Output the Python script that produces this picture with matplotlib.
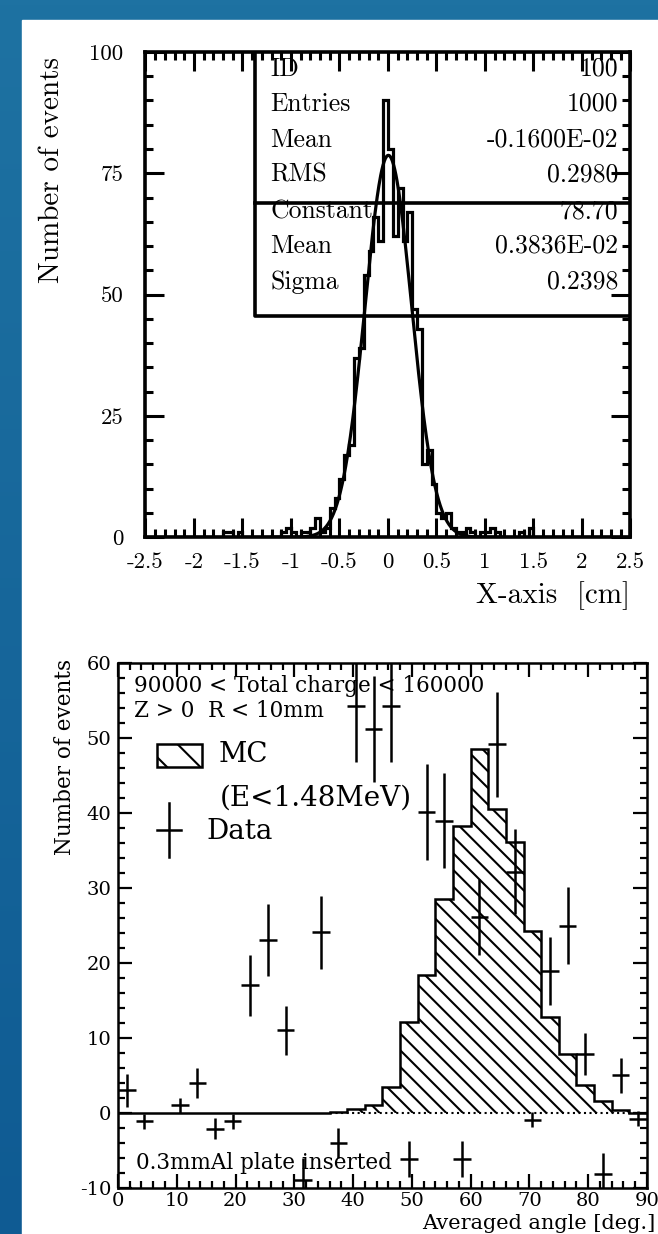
import numpy as np
import matplotlib.pyplot as plt
from matplotlib.patches import Rectangle
from matplotlib.ticker import MultipleLocator

plt.rcParams['axes.unicode_minus'] = False
plt.rcParams['hatch.linewidth'] = 1.5

# DATOS PANEL SUPERIOR (histograma 100 bins en -2.5 .. 2.5)
x_edges = np.linspace(-2.5, 2.5, 101)
counts = [0, 0, 0, 0, 0, 0, 0, 0, 0, 0,
          0, 0, 0, 0, 0, 0, 1, 1, 0, 1,
          0, 0, 0, 0, 0, 0, 0, 0, 1, 2,
          1, 0, 1, 1, 2, 4, 1, 2, 6, 8,
          12, 17, 19, 37, 39, 54, 59, 66, 61, 90,
          80, 62, 72, 61, 67, 47, 43, 15, 18, 11,
          5, 4, 5, 2, 1, 1, 2, 1, 0, 1,
          1, 2, 1, 0, 0, 0, 0, 1, 0, 2,
          0, 0, 0, 0, 0, 0, 0, 0, 0, 0,
          0, 0, 0, 0, 0, 0, 0, 0, 0, 0]
fit_const = 78.70
fit_mean = 0.3836e-02
fit_sigma = 0.2398
stat_names = ['ID', 'Entries', 'Mean', 'RMS', 'Constant', 'Mean', 'Sigma']
stat_values = ['100', '1000', '-0.1600E-02', '0.2980', '78.70', '0.3836E-02', '0.2398']
xtick_top = [-2.5, -2, -1.5, -1, -0.5, 0, 0.5, 1, 1.5, 2, 2.5]
xtick_top_lbl = ['-2.5', '-2', '-1.5', '-1', '-0.5', '0', '0.5', '1', '1.5', '2', '2.5']
ytick_top = [0, 25, 50, 75, 100]

# DATOS PANEL INFERIOR
mc_edges = np.arange(0, 91, 3)
mc = [0, 0, 0, 0, 0, 0, 0, 0, 0, 0,
      0, 0, 0.1, 0.5, 1.1, 3.4, 12.1, 18.4, 28.6, 38.3,
      48.5, 40.5, 36.2, 24.3, 12.8, 7.9, 3.7, 1.6, 0.4, 0]
data_x = [1.5, 4.5, 10.5, 13.5, 16.5, 19.5, 22.5, 25.5, 28.5, 31.5,
          34.5, 37.5, 40.5, 43.5, 46.5, 49.5, 52.5, 55.5, 58.5, 61.5,
          64.5, 67.5, 70.5, 73.5, 76.5, 79.5, 82.5, 85.5, 88.5]
data_y = [3.0, -1.1, 1.0, 4.0, -2.1, -1.1, 17.0, 23.1, 11.0, -9.0,
          24.1, -4.0, 54.3, 51.2, 54.3, -6.2, 40.1, 39.0, -6.2, 26.1,
          49.2, 32.2, -0.9, 18.9, 25.0, 7.9, -8.1, 5.0, -0.8]
data_err = [2.2, 1.0, 1.0, 2.0, 1.4, 1.0, 4.1, 4.8, 3.3, 3.0,
            4.9, 2.0, 7.5, 7.1, 7.5, 2.4, 6.4, 6.3, 2.4, 5.1,
            7.0, 5.7, 1.0, 4.5, 5.1, 2.8, 2.8, 2.3, 1.0]

CM = 'cmr10'
SERIF = 'DejaVu Serif'

fig = plt.figure(figsize=(6.58, 12.34), dpi=100)
fig.patch.set_facecolor('#1c6ea0')
# fondo azul degradado + panel blanco
bg = fig.add_axes([0, 0, 1, 1], zorder=-10)
bg.imshow(np.linspace(0, 1, 256).reshape(-1, 1), cmap=plt.matplotlib.colors.LinearSegmentedColormap.from_list('b', ['#1e72a2', '#0f5b93']),
          aspect='auto', extent=[0, 1, 0, 1])
bg.add_patch(Rectangle((22 / 658, 0), 1, 1 - 20 / 1234, color='white'))
bg.set_xlim(0, 1)
bg.set_ylim(0, 1)
bg.axis('off')

# PANEL SUPERIOR
ax1 = fig.add_axes([0.2211, 0.5646, 0.7371, 0.3933])
ax1.stairs(counts, x_edges, color='black', lw=2.3)
xf = np.linspace(-1.2, 1.2, 400)
ax1.plot(xf, fit_const * np.exp(-0.5 * ((xf - fit_mean) / fit_sigma) ** 2), color='black', lw=2.3)
ax1.set_xlim(-2.5, 2.5)
ax1.set_ylim(0, 100)
ax1.set_xticks(xtick_top)
ax1.set_xticklabels(xtick_top_lbl, fontfamily=CM, fontsize=16.5)
ax1.set_yticks(ytick_top)
ax1.set_yticklabels([str(v) for v in ytick_top], fontfamily=CM, fontsize=16.5)
ax1.xaxis.set_minor_locator(MultipleLocator(0.1))
ax1.yaxis.set_minor_locator(MultipleLocator(5))
ax1.tick_params(which='both', direction='in', top=True, right=True, width=2.2)
ax1.tick_params(which='major', length=14)
ax1.tick_params(which='minor', length=5.5)
ax1.tick_params(axis='x', pad=11)
ax1.tick_params(axis='y', pad=16)
for s in ax1.spines.values():
    s.set_linewidth(2.6)

# caja de estadisticas
ax1.plot([0.226, 0.226, 1.0], [1.0, 0.456, 0.456], color='black', lw=2.6, transform=ax1.transAxes)
ax1.plot([0.226, 1.0], [0.689, 0.689], color='black', lw=2.6, transform=ax1.transAxes)
rows_y = [0.965, 0.893, 0.819, 0.747, 0.672, 0.600, 0.526]
for ry, nm, val in zip(rows_y, stat_names, stat_values):
    ax1.text(0.257, ry, nm, transform=ax1.transAxes, fontfamily=CM, fontsize=18.5, va='center', ha='left')
    ax1.text(0.974, ry, val, transform=ax1.transAxes, fontfamily=CM, fontsize=18.5, va='center', ha='right')

fig.text(52 / 658, 0.862, 'Number of events', rotation=90, ha='center', va='center', fontfamily=CM, fontsize=21)
fig.text(0.9575, 0.517, 'X-axis  [cm]', ha='right', va='center', fontfamily=CM, fontsize=21)

# PANEL INFERIOR
ax2 = fig.add_axes([0.1793, 0.0373, 0.8040, 0.4254])
ax2.stairs(mc, mc_edges, fill=True, facecolor='white', edgecolor='black', hatch='\\\\', lw=0)
ax2.stairs(mc[12:], mc_edges[12:], color='black', lw=1.8)
ax2.plot([0, 36], [0, 0], color='black', lw=1.8)
ax2.plot([36, 90], [0, 0], color='black', lw=1.5, ls=':')
ax2.errorbar(data_x, data_y, yerr=data_err, xerr=1.5, fmt='none', ecolor='black', elinewidth=1.8, capsize=0)
ax2.set_xlim(0, 90)
ax2.set_ylim(-10, 60)
ax2.xaxis.set_major_locator(MultipleLocator(10))
ax2.xaxis.set_minor_locator(MultipleLocator(2))
ax2.yaxis.set_major_locator(MultipleLocator(10))
ax2.yaxis.set_minor_locator(MultipleLocator(2))
ax2.tick_params(which='both', direction='in', top=True, right=True, width=1.6, labelsize=14)
ax2.tick_params(which='major', length=10)
ax2.tick_params(which='minor', length=5)
ax2.tick_params(axis='x', pad=3)
ax2.tick_params(axis='y', pad=5)
for lbl in ax2.get_xticklabels() + ax2.get_yticklabels():
    lbl.set_fontfamily(SERIF)
for s in ax2.spines.values():
    s.set_linewidth(1.8)

ax2.text(0.030, 0.956, '90000 < Total charge < 160000', transform=ax2.transAxes, fontfamily=SERIF, fontsize=15.5, va='center')
ax2.text(0.030, 0.909, 'Z > 0  R < 10mm', transform=ax2.transAxes, fontfamily=SERIF, fontsize=15.5, va='center')
ax2.add_patch(Rectangle((0.0737, 0.802), 0.085, 0.0438, transform=ax2.transAxes, facecolor='white',
                        edgecolor='black', hatch='\\', lw=1.8))
ax2.text(0.191, 0.825, 'MC', transform=ax2.transAxes, fontfamily=SERIF, fontsize=20, va='center')
ax2.text(0.193, 0.743, '(E<1.48MeV)', transform=ax2.transAxes, fontfamily=SERIF, fontsize=20, va='center')
ax2.plot([0.0964, 0.0964], [0.630, 0.734], color='black', lw=1.8, transform=ax2.transAxes)
ax2.plot([0.0737, 0.1191], [0.682, 0.682], color='black', lw=1.8, transform=ax2.transAxes)
ax2.text(0.168, 0.680, 'Data', transform=ax2.transAxes, fontfamily=SERIF, fontsize=20, va='center')
ax2.text(0.034, 0.048, '0.3mmAl plate inserted', transform=ax2.transAxes, fontfamily=SERIF, fontsize=15.5, va='center')

fig.text(65 / 658, 0.3865, 'Number of events', rotation=90, ha='center', va='center', fontfamily=SERIF, fontsize=15.5)
fig.text(655 / 658, 0.001, 'Averaged angle [deg.]', ha='right', va='bottom', fontfamily=SERIF, fontsize=15)

fig.savefig('out.png', dpi=100)
